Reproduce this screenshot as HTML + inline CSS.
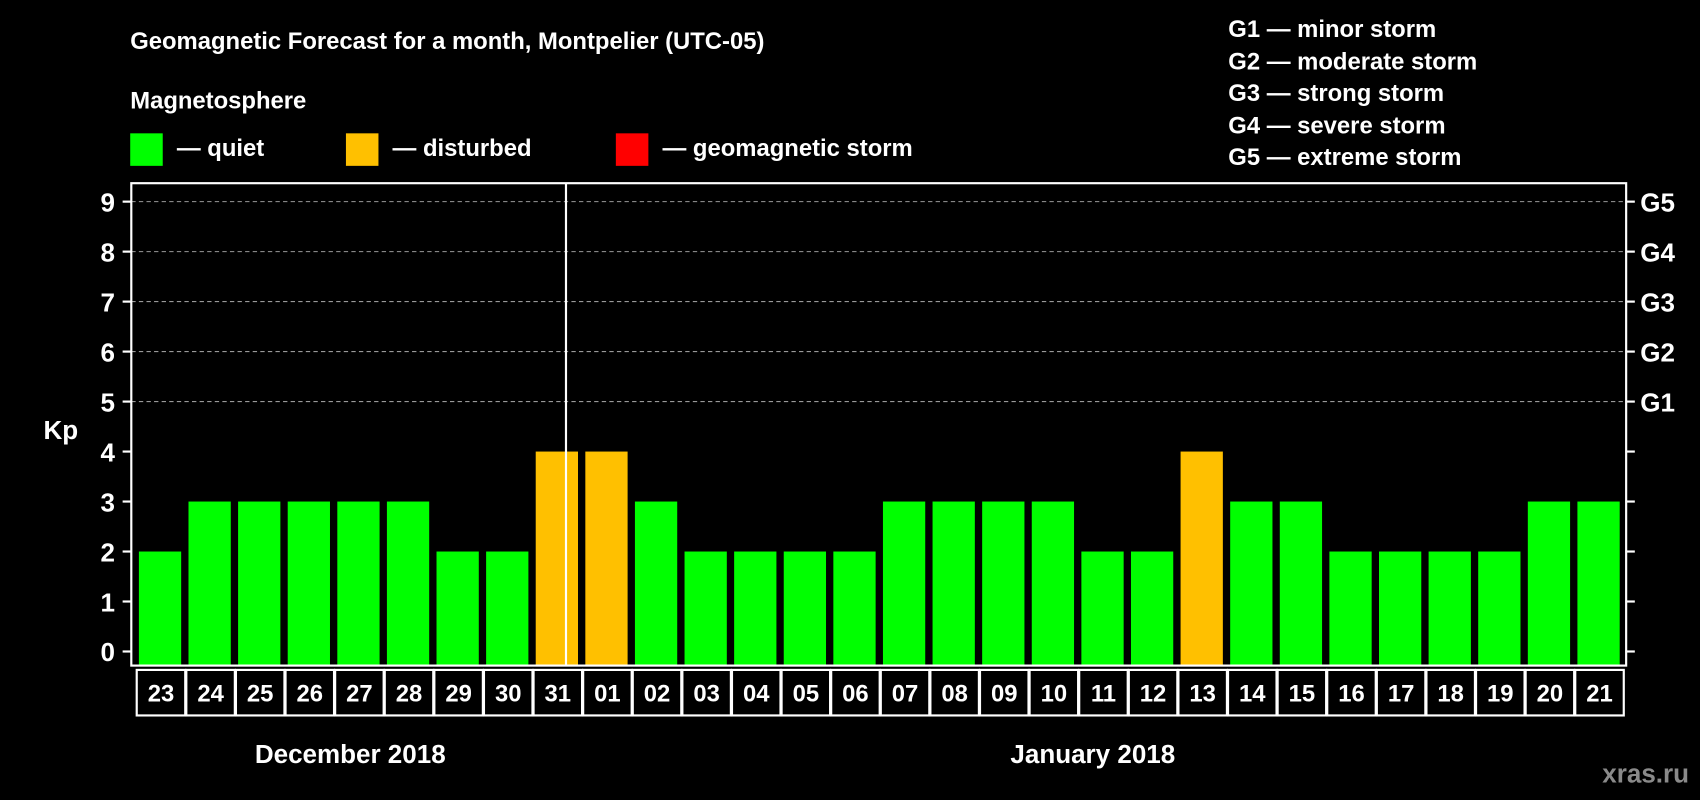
<!DOCTYPE html>
<html><head><meta charset="utf-8"><style>
html,body{margin:0;padding:0;background:#000;}
svg{display:block;font-family:"Liberation Sans",Arial,sans-serif;font-weight:bold;}
</style></head><body>
<svg id="chart" width="1700" height="800" viewBox="0 0 1568 738" xmlns="http://www.w3.org/2000/svg">
<rect x="0" y="0" width="1568" height="738" fill="#000"/>
<text x="120" y="45" fill="#fff" font-size="22">Geomagnetic Forecast for a month, Montpelier (UTC-05)</text>
<text x="120" y="100" fill="#fff" font-size="22">Magnetosphere</text>
<rect x="120" y="123" width="30" height="30" fill="#00ff00"/>
<text x="163" y="144" fill="#fff" font-size="22">— quiet</text>
<rect x="319" y="123" width="30" height="30" fill="#ffc000"/>
<text x="362" y="144" fill="#fff" font-size="22">— disturbed</text>
<rect x="568" y="123" width="30" height="30" fill="#ff0000"/>
<text x="611" y="144" fill="#fff" font-size="22">— geomagnetic storm</text>
<g fill="#fff" font-size="22">
<text x="1133" y="34">G1 — minor storm</text>
<text x="1133" y="64">G2 — moderate storm</text>
<text x="1133" y="93">G3 — strong storm</text>
<text x="1133" y="123">G4 — severe storm</text>
<text x="1133" y="152">G5 — extreme storm</text>
</g>
<text x="40" y="405" fill="#fff" font-size="24">Kp</text>
<g id="grid"></g>
<g id="bars"></g>
<rect x="121" y="169" width="1379" height="445" fill="none" stroke="#fff" stroke-width="2"/>
<line x1="522" y1="169" x2="522" y2="614" stroke="#fff" stroke-width="2"/>
<g id="dates"></g>
<text x="323" y="704" fill="#fff" font-size="24" text-anchor="middle">December 2018</text>
<text x="1008" y="704" fill="#fff" font-size="24" text-anchor="middle">January 2018</text>
<text x="1558" y="722" fill="#8a8a8a" font-size="24" text-anchor="end">xras.ru</text>
</svg>
<script>
const days = ["23","24","25","26","27","28","29","30","31","01","02","03","04","05","06","07","08","09","10","11","12","13","14","15","16","17","18","19","20","21","22"].slice(0,30);
const kpValues = [2,3,3,3,3,3,2,2,4,4,3,2,2,2,2,3,3,3,3,2,2,4,3,3,2,2,2,2,3,3,3].slice(0,30);
const yTicks = [0,1,2,3,4,5,6,7,8,9];
const gLabels = ["","","","","","G1","G2","G3","G4","G5"];
</script>
<script>
(function(){
const NS="http://www.w3.org/2000/svg";
const d=days.slice(0,30), v=kpValues.slice(0,30);
const y=k=>601-k*46.11;
const slot=45.76, x0=125;
const x=i=>x0+i*slot;
const grid=document.getElementById('grid');
yTicks.forEach((t,i)=>{
  const yy=y(t);
  if(t>=5){
    const l=document.createElementNS(NS,'line');
    
    
    l.setAttribute('x1',121);l.setAttribute('x2',1500);l.setAttribute('y1',yy);l.setAttribute('y2',yy);
    l.setAttribute('stroke','#999');l.setAttribute('stroke-dasharray','4,3');l.setAttribute('stroke-width','1');
    grid.appendChild(l);
  }
  const tl=document.createElementNS(NS,'line');
  
  
  tl.setAttribute('x1',113);tl.setAttribute('x2',121);tl.setAttribute('y1',yy);tl.setAttribute('y2',yy);tl.setAttribute('stroke','#fff');tl.setAttribute('stroke-width','2');
  grid.appendChild(tl);
  const tr=document.createElementNS(NS,'line');
  
  
  tr.setAttribute('x1',1500);tr.setAttribute('x2',1508);tr.setAttribute('y1',yy);tr.setAttribute('y2',yy);tr.setAttribute('stroke','#fff');tr.setAttribute('stroke-width','2');
  grid.appendChild(tr);
  const lab=document.createElementNS(NS,'text');
  
  
  lab.setAttribute('x',106);lab.setAttribute('y',yy+9);lab.setAttribute('text-anchor','end');lab.setAttribute('fill','#fff');lab.setAttribute('font-size','24');
  lab.textContent=t;grid.appendChild(lab);
  if(gLabels[i]){
    const g=document.createElementNS(NS,'text');
    
    
    g.setAttribute('x',1513);g.setAttribute('y',yy+9);g.setAttribute('fill','#fff');g.setAttribute('font-size','24');
    g.textContent=gLabels[i];grid.appendChild(g);
  }
});
const bars=document.getElementById('bars'), dates=document.getElementById('dates');
v.forEach((k,i)=>{
  const r=document.createElementNS(NS,'rect');
  
  
  const top=y(k);
  r.setAttribute('x',x(i)+3);r.setAttribute('width',39);r.setAttribute('y',top);r.setAttribute('height',613-top);
  r.setAttribute('fill',k>=5?'#ff0000':(k>=4?'#ffc000':'#00ff00'));
  bars.appendChild(r);
  const c=document.createElementNS(NS,'rect');
  
  
  c.setAttribute('x',x(i)+1);c.setAttribute('y',618);c.setAttribute('width',slot-1);c.setAttribute('height',42);
  c.setAttribute('fill','none');c.setAttribute('stroke','#fff');c.setAttribute('stroke-width','2');
  dates.appendChild(c);
  const t=document.createElementNS(NS,'text');
  
  
  t.setAttribute('x',x(i)+slot/2+0.5);t.setAttribute('y',647);t.setAttribute('text-anchor','middle');t.setAttribute('fill','#fff');t.setAttribute('font-size','22');
  t.textContent=d[i];dates.appendChild(t);
});
})();
</script>
</body></html>
